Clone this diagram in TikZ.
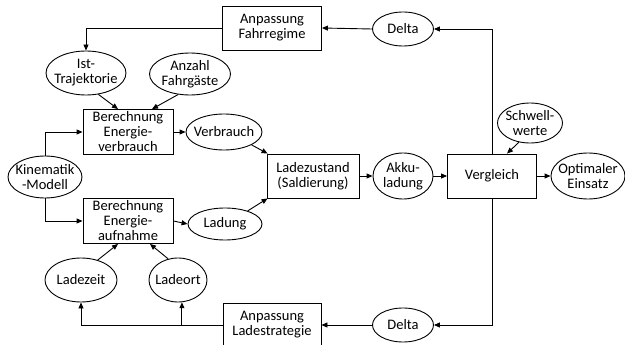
\documentclass[tikz,border=0pt]{standalone}
\usepackage{fontspec}
\setmainfont{Carlito}
\usetikzlibrary{shapes,arrows.meta,calc,positioning}

\begin{document}
\begin{tikzpicture}[
  x=1pt, y=-1pt,
  font=\fontsize{14.5}{15}\selectfont,
  line width=0.9pt,
  >={Triangle[length=6pt,width=5pt]},
  stepbox/.style={rectangle, draw, inner sep=0pt, align=center, minimum width=90pt, minimum height=45pt},
  oval/.style={ellipse, draw, inner xsep=-20pt, inner ysep=0pt, align=center}
]
  \useasboundingbox (0,0) rectangle (625,345);

  % top loop
  \node (fahr) [stepbox, minimum width=99pt, minimum height=44pt] at (272,28) {Anpassung\\Fahrregime};
  \node (deltaT) [oval, minimum width=61pt, minimum height=34pt] at (403,29) {Delta};

  % energy consumption
  \node (ist) [oval, minimum width=80pt, minimum height=44pt] at (86,73) {Ist-\\Trajektorie};
  \node (anzahl) [oval, minimum width=81pt, minimum height=42pt] at (190,74) {Anzahl\\Fahrgäste};
  \node (verb) [stepbox] at (128,132) {Berechnung\\Energie-\\verbrauch};
  \node (verbrauch) [oval, minimum width=76pt, minimum height=36pt] at (224,132) {Verbrauch};
  \node (kin) [oval, minimum width=74pt, minimum height=42pt] at (45,177) {Kinematik\\-Modell};

  % energy intake
  \node (aufn) [stepbox] at (128,221) {Berechnung\\Energie-\\aufnahme};
  \node (ladung) [oval, minimum width=74pt, minimum height=32pt] at (225,224) {Ladung};
  \node (ladezeit) [oval, minimum width=72pt, minimum height=44pt] at (81,280) {Ladezeit};
  \node (ladeort) [oval, minimum width=58pt, minimum height=44pt] at (178,280) {Ladeort};

  % bottom loop
  \node (lade) [stepbox, minimum width=98pt, minimum height=44pt] at (272,325) {Anpassung\\Ladestrategie};
  \node (deltaB) [oval, minimum width=61pt, minimum height=34pt] at (403,325) {Delta};

  % balance and comparison
  \node (saldo) [stepbox, minimum width=92pt, minimum height=44pt] at (313,176) {Ladezustand\\(Saldierung)};
  \node (akku) [oval, minimum width=60pt, minimum height=46pt] at (403,176) {Akku-\\ladung};
  \node (vergl) [stepbox, minimum width=89pt, minimum height=44pt] at (492,176) {Vergleich};
  \node (opt) [oval, minimum width=74pt, minimum height=46pt] at (588,176) {Optimaler\\Einsatz};
  \node (schw) [oval, minimum width=65pt, minimum height=40pt] at (530,123) {Schwell-\\werte};

  \draw[->] (vergl.north) |- (deltaT.east);
  \draw[->] (deltaT.west) -- (fahr.east);
  \draw[->] (fahr.west) -| (ist.north);
  \draw[->] (ist.-60) -- ([xshift=-10pt]verb.north);
  \draw[->] (anzahl.-120) -- ([xshift=24pt]verb.north);
  \draw[->] (kin.north) |- (verb.west);
  \draw[->] (kin.south) |- (aufn.west);
  \draw[->] (verb.east) -- (verbrauch.west);
  \draw[->] (aufn.east) -- (ladung.west);
  \draw[->] (verbrauch.-25) -- ([xshift=1pt]saldo.north west);
  \draw[->] (ladung.30) -- ([xshift=1pt]saldo.south west);
  \draw[->] (saldo.east) -- (akku.west);
  \draw[->] (akku.east) -- (vergl.west);
  \draw[->] (vergl.east) -- (opt.west);
  \draw[->] (schw.-120) -- ([xshift=15pt]vergl.north);
  \draw[->] (vergl.south) |- (deltaB.east);
  \draw[->] (deltaB.west) -- (lade.east);
  \draw[->] (lade.west) -| (ladezeit.south);
  \draw[->] (ladeort.-80 |- lade.west) -- (ladeort.-80);
  \draw[->] (ladezeit.50) -- ([xshift=-10pt]aufn.south);
  \draw[->] (ladeort.115) -- ([xshift=22pt]aufn.south);
\end{tikzpicture}
\end{document}
